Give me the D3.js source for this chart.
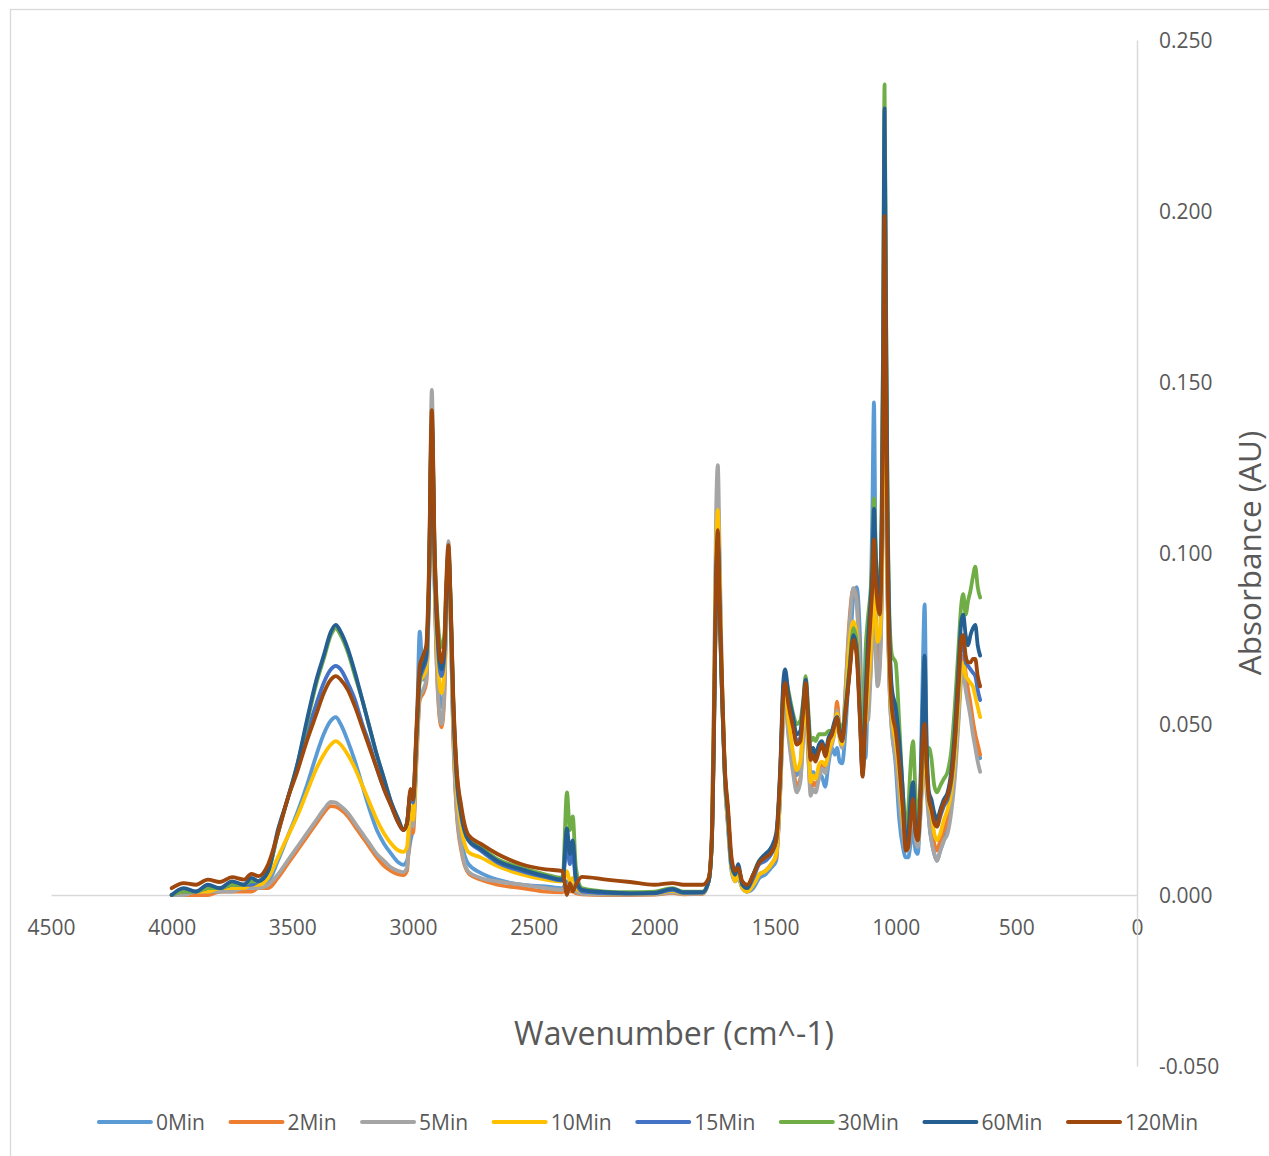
<!DOCTYPE html>
<html>
<head>
<meta charset="utf-8">
<script src="https://cdn.jsdelivr.net/npm/d3@7"></script>
<style>
  html, body { margin: 0; padding: 0; background: #ffffff; }
  svg { display: block; font-family: "Open Sans", "DejaVu Sans", sans-serif; }
</style>
</head>
<body>
<svg id="chart" width="1269" height="1156"></svg>
<script>
// FTIR spectra: absorbance vs. wavenumber (cm^-1) for eight exposure times.
const wavenumbers = [
  4000, 3950, 3900, 3850, 3800, 3750, 3700, 3670, 3640, 3600,
  3560, 3520, 3480, 3440, 3400, 3370, 3340, 3320, 3300, 3270, 3240, 3210, 3180, 3150, 3120, 3090, 3060, 3040,
  3025, 3010, 3000, 2985, 2972, 2958, 2945, 2934, 2922, 2910, 2897, 2882, 2870, 2862, 2853, 2844, 2834, 2820, 2800,
  2770, 2720, 2650, 2550, 2450, 2380, 2362, 2350, 2338, 2325, 2300, 2200, 2100, 2000, 1925, 1880, 1800,
  1775, 1762, 1752, 1744, 1737, 1729, 1721, 1707, 1695, 1680, 1665, 1653, 1635, 1615, 1590, 1565, 1540, 1515, 1495,
  1478, 1466, 1458, 1445, 1425, 1410, 1395, 1383, 1373, 1362, 1352, 1342, 1332, 1318, 1305, 1292, 1278, 1264, 1252, 1243,
  1232, 1222, 1208, 1192, 1175, 1162, 1148, 1137, 1125, 1115, 1105, 1097, 1090, 1083, 1075, 1066, 1058, 1052, 1046, 1040,
  1034, 1025, 1015, 1000, 985, 970, 958, 948, 938, 928, 918, 908, 898, 888, 880, 872, 862, 852, 840, 829,
  815, 800, 785, 770, 755, 740, 728, 720, 710, 700, 690, 680, 670, 660, 650
];

const abs0Min = [
  0, 0, .001, .001, .001, .002, .002, .002, .003, .004,
  .010, .017, .024, .032, .041, .047, .051, .052, .050, .045, .039, .032, .025, .019, .015, .012, .0095, .0088,
  .010, .016, .020, .045, .077, .063, .064, .086, .133, .090, .064, .055, .062, .084, .098, .080, .050, .027, .016,
  .009, .0065, .0045, .003, .0025, .002, .004, .002, .003, .001, .0005, .0002, .0002, .0003, .001, .0004, .0005,
  .004, .017, .060, .103, .115, .092, .066, .033, .020, .007, .004, .005, .002, .001, .002, .005, .006, .008, .010,
  .032, .055, .059, .050, .040, .035, .038, .050, .058, .044, .035, .036, .035, .0355, .0345, .0316, .0385, .043, .041, .043,
  .039, .0385, .048, .068, .087, .090, .0755, .045, .040, .060, .080, .110, .144, .095, .065, .070, .090, .120, .170, .130,
  .090, .060, .048, .038, .022, .014, .011, .011, .015, .020, .013, .012, .030, .065, .085, .045, .022, .016, .012, .010,
  .013, .016, .020, .026, .036, .052, .066, .068, .062, .058, .054, .050, .046, .043, .040
];

const abs2Min = [
  0, 0, 0, 0, .001, .001, .001, .001, .002, .002,
  .005, .009, .013, .017, .021, .024, .026, .0258, .025, .023, .020, .017, .014, .011, .0085, .007, .006, .0058,
  .007, .020, .018, .040, .057, .059, .062, .089, .140, .090, .059, .049, .058, .084, .101, .080, .048, .025, .013,
  .0064, .0045, .003, .002, .001, .0008, .002, .001, .0012, .0005, .0002, 0, 0, .0001, .0006, .0002, .0003,
  .004, .015, .053, .093, .105, .084, .062, .033, .021, .008, .005, .006, .002, .001, .003, .006, .007, .009, .011,
  .031, .053, .057, .048, .037, .032, .034, .047, .056, .041, .031, .033, .032, .035, .038, .037, .041, .045, .050, .0565,
  .048, .044, .060, .080, .0897, .087, .064, .037, .052, .055, .064, .076, .090, .074, .063, .068, .088, .118, .170, .128,
  .090, .062, .050, .042, .032, .020, .015, .016, .022, .027, .018, .016, .024, .036, .040, .032, .025, .020, .015, .013,
  .016, .019, .022, .028, .038, .054, .068, .070, .065, .060, .056, .051, .047, .044, .041
];

const abs5Min = [
  0, 0, .001, .001, .001, .001, .002, .002, .002, .003,
  .006, .010, .014, .018, .022, .025, .0272, .027, .026, .024, .021, .018, .015, .012, .010, .008, .007, .0067,
  .008, .022, .020, .042, .058, .060, .063, .090, .1477, .092, .060, .050, .060, .086, .1035, .082, .050, .026, .014,
  .0068, .005, .004, .003, .002, .0015, .003, .0015, .002, .001, .0003, .0001, .0001, .0002, .0008, .0003, .0004,
  .004, .018, .064, .112, .1257, .098, .068, .034, .021, .008, .005, .006, .002, .001, .003, .006, .007, .009, .012,
  .030, .052, .057, .047, .0356, .030, .033, .046, .056, .040, .029, .031, .030, .034, .037, .0356, .040, .044, .048, .054,
  .046, .043, .059, .078, .0897, .086, .062, .036, .051, .051, .062, .075, .088, .072, .061, .066, .085, .115, .165, .125,
  .090, .060, .047, .040, .028, .018, .013, .013, .020, .025, .016, .014, .022, .035, .040, .030, .022, .016, .012, .010,
  .013, .016, .018, .024, .034, .050, .063, .065, .060, .056, .052, .047, .043, .039, .036
];

const abs10Min = [
  0, .001, .001, .001, .002, .002, .002, .003, .003, .005,
  .011, .017, .023, .030, .037, .041, .044, .045, .044, .041, .037, .032, .027, .022, .018, .015, .013, .0126,
  .014, .026, .022, .044, .062, .064, .066, .088, .135, .093, .068, .059, .066, .086, .099, .082, .054, .032, .020,
  .0125, .011, .0085, .006, .0045, .004, .007, .004, .005, .002, .001, .0004, .0003, .0004, .0012, .0005, .0006,
  .004, .016, .058, .100, .1126, .090, .066, .034, .022, .008, .004, .006, .002, .001, .003, .006, .007, .009, .012,
  .033, .056, .060, .052, .0415, .0365, .039, .050, .058, .045, .033, .035, .034, .038, .039, .038, .042, .045, .048, .053,
  .046, .044, .055, .073, .080, .076, .055, .036, .050, .060, .070, .080, .095, .082, .074, .076, .095, .130, .175, .135,
  .095, .065, .052, .045, .035, .022, .015, .017, .026, .030, .020, .016, .024, .038, .042, .033, .027, .024, .018, .016,
  .018, .022, .025, .030, .040, .055, .066, .068, .064, .063, .062, .061, .058, .055, .052
];

const abs15Min = [
  0, .001, .001, .002, .002, .003, .003, .003, .004, .007,
  .018, .028, .037, .047, .056, .062, .066, .067, .066, .062, .057, .050, .044, .037, .031, .026, .021, .019,
  .021, .029, .027, .046, .063, .066, .069, .089, .136, .096, .073, .064, .070, .087, .099, .084, .057, .035, .023,
  .016, .013, .0095, .007, .0052, .0042, .015, .009, .012, .004, .001, .0005, .0004, .0005, .0015, .0006, .0007,
  .004, .015, .051, .090, .103, .082, .062, .034, .024, .009, .006, .008, .003, .002, .005, .009, .010, .012, .016,
  .036, .059, .063, .057, .050, .045, .046, .055, .062, .050, .040, .042, .040, .043, .044, .041, .045, .047, .050, .052,
  .047, .045, .053, .065, .077, .073, .052, .035, .055, .070, .082, .092, .108, .095, .088, .086, .105, .152, .220, .162,
  .110, .072, .058, .052, .042, .027, .015, .017, .025, .031, .019, .016, .026, .045, .052, .038, .028, .026, .022, .020,
  .023, .026, .028, .033, .044, .060, .073, .074, .068, .067, .066, .065, .064, .060, .057
];

const abs30Min = [
  0, .001, .001, .002, .002, .003, .003, .004, .004, .007,
  .018, .028, .038, .050, .062, .069, .076, .078, .076, .071, .064, .057, .049, .041, .034, .027, .022, .019,
  .021, .030, .028, .048, .064, .068, .071, .092, .137, .100, .080, .0725, .076, .090, .100, .086, .059, .037, .025,
  .0165, .014, .0105, .008, .006, .005, .030, .019, .023, .008, .002, .001, .0008, .001, .002, .001, .001,
  .004, .015, .051, .090, .102, .082, .062, .034, .024, .009, .006, .008, .003, .002, .006, .010, .011, .013, .017,
  .036, .060, .064, .060, .053, .050, .051, .057, .064, .054, .045, .046, .045, .047, .047, .047, .048, .048, .050, .051,
  .050, .048, .055, .066, .078, .074, .056, .038, .071, .081, .088, .098, .116, .102, .092, .090, .112, .165, .237, .175,
  .120, .080, .070, .068, .050, .030, .020, .025, .038, .045, .030, .022, .030, .040, .045, .040, .043, .040, .032, .030,
  .032, .034, .036, .042, .055, .072, .085, .088, .082, .086, .089, .093, .096, .090, .087
];

const abs60Min = [
  0, .002, .001, .003, .002, .004, .003, .005, .004, .007,
  .019, .028, .038, .051, .063, .070, .077, .079, .077, .072, .065, .057, .049, .041, .034, .027, .022, .019,
  .021, .030, .028, .048, .064, .067, .070, .090, .138, .098, .075, .066, .072, .088, .100, .085, .058, .036, .024,
  .016, .0135, .010, .0075, .0055, .0045, .0195, .012, .016, .005, .0015, .0008, .0005, .0006, .0018, .0008, .0008,
  .004, .015, .052, .092, .104, .083, .063, .035, .024, .009, .006, .009, .003, .002, .006, .010, .012, .014, .018,
  .038, .062, .066, .059, .052, .047, .048, .056, .063, .052, .041, .043, .041, .044, .045, .042, .046, .048, .051, .052,
  .048, .046, .054, .065, .076, .072, .053, .036, .058, .074, .085, .095, .113, .100, .090, .088, .110, .160, .230, .170,
  .115, .075, .060, .055, .045, .030, .016, .018, .028, .033, .020, .017, .030, .055, .070, .045, .030, .028, .024, .022,
  .025, .028, .030, .036, .048, .066, .080, .082, .076, .073, .076, .078, .079, .073, .070
];

const abs120Min = [
  .002, .0035, .003, .0045, .0038, .0052, .0045, .0062, .0055, .009,
  .018, .028, .036, .045, .053, .059, .063, .064, .063, .060, .055, .049, .043, .037, .031, .026, .021, .019,
  .021, .031, .028, .050, .067, .070, .073, .095, .1418, .100, .077, .068, .074, .092, .1023, .086, .060, .038, .026,
  .0175, .015, .012, .009, .0075, .007, 0, .0035, .001, .003, .0053, .0045, .0038, .003, .0035, .003, .003,
  .005, .016, .055, .094, .1067, .085, .065, .036, .026, .011, .007, .008, .004, .003, .006, .0095, .011, .0125, .016,
  .036, .058, .062, .056, .049, .044, .045, .054, .062, .049, .0395, .041, .039, .042, .044, .0405, .045, .047, .050, .0518,
  .047, .045, .053, .064, .0746, .070, .051, .0346, .053, .068, .080, .090, .104, .092, .085, .082, .100, .140, .1985, .150,
  .100, .068, .054, .048, .038, .025, .013, .014, .022, .028, .018, .016, .028, .045, .050, .038, .028, .025, .021, .020,
  .024, .027, .029, .034, .045, .062, .075, .076, .070, .068, .068, .069, .069, .064, .061
];

const seriesNames = ["0Min", "2Min", "5Min", "10Min", "15Min", "30Min", "60Min", "120Min"];
const seriesValues = [abs0Min, abs2Min, abs5Min, abs10Min, abs15Min, abs30Min, abs60Min, abs120Min];
const seriesColors = ["#5B9BD5", "#ED7D31", "#A5A5A5", "#FFC000", "#4472C4", "#70AD47", "#255E91", "#9E480E"];

const xTicks = [4500, 4000, 3500, 3000, 2500, 2000, 1500, 1000, 500, 0];
const yTicks = [-0.05, 0, 0.05, 0.10, 0.15, 0.20, 0.25];

const svg = d3.select("#chart");
const textColor = "#595959";
const gridColor = "#D9D9D9";

// chart frame
svg.append("rect")
  .attr("x", 10.5).attr("y", 9.5)
  .attr("width", 1300).attr("height", 1200)
  .attr("fill", "#ffffff")
  .attr("stroke", gridColor).attr("stroke-width", 1.3);

// reversed wavenumber axis, absorbance axis on the right
const x = d3.scaleLinear().domain([4500, 0]).range([51, 1137]);
const y = d3.scaleLinear().domain([-0.05, 0.25]).range([1066, 40]);

// horizontal axis drawn along zero absorbance
const xAxis = d3.axisBottom(x).tickValues(xTicks).tickSize(0).tickPadding(0).tickFormat(d3.format("d"));
const gx = svg.append("g").attr("transform", `translate(0,${y(0)})`).call(xAxis);
gx.select(".domain").attr("stroke", gridColor).attr("stroke-width", 1.5);
gx.selectAll("text")
  .attr("y", 40).attr("dy", 0)
  .attr("fill", textColor)
  .style("font-size", "21px")
  .style("font-family", '"Open Sans", sans-serif');

// vertical axis positioned at wavenumber 0
const fmt3 = d3.format(".3f");
const yAxis = d3.axisRight(y).tickValues(yTicks).tickSize(0).tickPadding(0)
  .tickFormat(d => fmt3(d).replace("\u2212", "-"));
const gy = svg.append("g").attr("transform", `translate(${x(0)},0)`).call(yAxis);
gy.select(".domain").attr("stroke", gridColor).attr("stroke-width", 1.5);
gy.selectAll("text")
  .attr("x", 22).attr("dy", "0.36em")
  .attr("text-anchor", "start")
  .attr("fill", textColor)
  .style("font-size", "21px")
  .style("font-family", '"Open Sans", sans-serif');

// spectra
const line = d3.line()
  .x(d => x(d.w))
  .y(d => y(d.a))
  .curve(d3.curveMonotoneX);

const series = seriesNames.map((name, i) => ({
  name,
  color: seriesColors[i],
  points: wavenumbers.map((w, j) => ({ w, a: seriesValues[i][j] }))
}));

svg.append("g").selectAll("path")
  .data(series)
  .join("path")
  .attr("d", d => line(d.points))
  .attr("fill", "none")
  .attr("stroke", d => d.color)
  .attr("stroke-width", 3.8)
  .attr("stroke-linejoin", "round")
  .attr("stroke-linecap", "round");

// axis titles
svg.append("text")
  .attr("x", 674).attr("y", 1045)
  .attr("text-anchor", "middle")
  .attr("fill", textColor)
  .style("font-size", "32px")
  .text("Wavenumber (cm^-1)");

svg.append("text")
  .attr("transform", "translate(1261,553) rotate(-90)")
  .attr("text-anchor", "middle")
  .attr("fill", textColor)
  .style("font-size", "31.5px")
  .text("Absorbance (AU)");

// legend along the bottom
const legend = svg.append("g");
const legendY = 1122;
let cursor = 0;
series.forEach((s, i) => {
  const item = legend.append("g");
  item.append("line")
    .attr("x1", cursor).attr("x2", cursor + 52)
    .attr("y1", legendY).attr("y2", legendY)
    .attr("stroke", s.color).attr("stroke-width", 4)
    .attr("stroke-linecap", "round");
  const t = item.append("text")
    .attr("x", cursor + 57).attr("y", legendY).attr("dy", "0.36em")
    .attr("fill", textColor)
    .style("font-size", "21px")
    .text(s.name);
  cursor += 57 + t.node().getComputedTextLength() + (i < series.length - 1 ? 25.5 : 0);
});
legend.attr("transform", `translate(${648.5 - cursor / 2},0)`);
</script>
</body>
</html>
